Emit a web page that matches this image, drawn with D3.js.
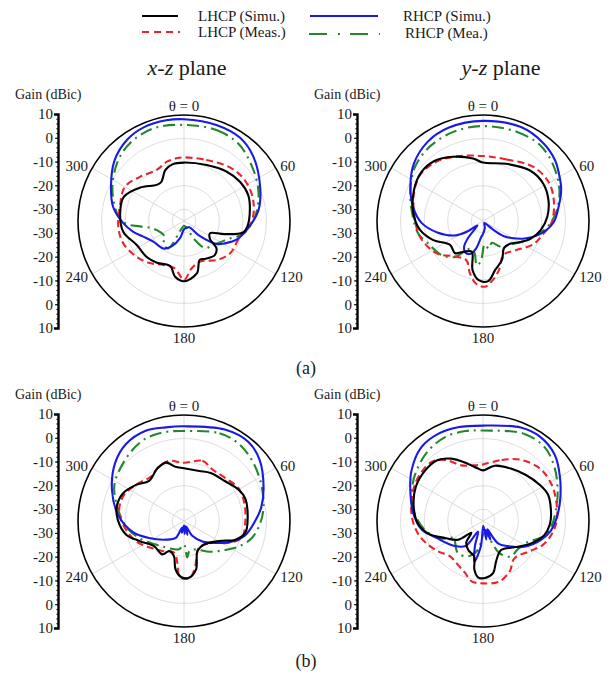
<!DOCTYPE html>
<html>
<head>
<meta charset="utf-8">
<script src="https://cdn.jsdelivr.net/npm/d3@7"></script>
<style>
  body { margin: 0; background: #fff; }
  svg, text { font-family: "Liberation Serif", "Times New Roman", serif; }
  text { fill: #1a1a1a; }
</style>
</head>
<body>
<div id="chart"></div>
<script>
const svgWidth = 613;
const svgHeight = 677;
const ringRadius = 106;
const axisHalf = 107;

// axis / grid values
const gainTickLabels = ["10", "0", "-10", "-20", "-30", "-30", "-20", "-10", "0", "10"];
const gainRings = [-30, -20, -10, 0];
const spokeAngles = [0, 60, 120];
const angleLabels = [[0, "θ = 0"], [60, "60"], [120, "120"], [180, "180"], [240, "240"], [300, "300"]];
const seriesNames = ["LHCP (Simu.)", "LHCP (Meas.)", "RHCP (Simu.)", "RHCP (Mea.)"];
const seriesColors = ["#000000", "#e8242c", "#1a1ae6", "#24882a"];

// (a) x-z plane  [theta deg, gain dBic]
const xzA_lhcpSimu = [[0,-10.2],[22,-9.4],[41,-7.3],[55,-6],[68,-5.6],[80,-6.6],[95,-8],[101,-9.5],[108,-17],[115,-22.8],[125,-21.5],[130,-17],[138,-15.5],[150,-16.5],[158,-17.2],[166,-12.2],[180,-9.4],[189,-11],[197,-15],[213,-13.9],[226,-13],[243,-12.5],[260,-8.8],[277,-7.7],[292,-7.5],[307,-11.5],[323,-15.8],[330,-15.8],[340,-11.9],[349,-10.4]];
const xzA_lhcpMeas = [[0,-8],[20,-7.4],[41,-5],[56,-3.9],[73,-4.3],[91,-6.3],[106,-10.4],[125,-11.1],[140,-13.4],[158,-16.5],[171,-14.6],[180,-10],[191,-14.5],[205,-14.4],[219,-12],[233,-9.8],[250,-7.5],[265,-7],[283,-7.1],[300,-6],[315,-8.5],[332,-10.4],[344,-8.8],[353,-8.2]];
const xzA_rhcpSimu = [[0,8.2],[19,8],[34,7.6],[47,5.2],[66,0.4],[82,-3.1],[96,-7.5],[110,-11.5],[118,-15],[125,-18],[134,-26],[140,-31.5],[160,-32],[180,-31.5],[193,-27.5],[206,-23],[217,-20.4],[236,-19.3],[249,-16.5],[258,-13],[268,-9.2],[281,-4.4],[295,-0.8],[311,4.1],[325,7.1],[337,8.3],[350,8.4]];
const xzA_rhcpMeas = [[0,5.8],[20,6],[36,5],[54,1.5],[70,-1.3],[87,-4.9],[102,-9.2],[111,-14.2],[129,-18.9],[142,-20.4],[150,-25.7],[160,-32],[180,-33],[200,-31],[210,-21.6],[222,-22],[231,-24.5],[256,-21.6],[263,-16.2],[267,-10.7],[274,-7.1],[293,-2],[311,2.6],[325,5.2],[342,6.4]];

// (a) y-z plane
const yzA_lhcpSimu = [[0,-10.2],[22,-8.8],[43,-5.7],[58,-4.9],[72,-5.8],[86,-7.6],[99,-10.2],[111,-13.6],[120,-17],[130,-20],[142,-20.5],[154,-16.6],[166,-13.6],[175,-9.4],[184,-9.8],[192,-13.7],[200,-21.1],[212,-19.6],[221,-16.9],[234,-17.7],[249,-12.4],[262,-8],[276,-5.3],[294,-2.9],[308,-1.6],[321,-2.2],[335,-4.9],[351,-8.1]];
const yzA_lhcpMeas = [[0,-7.4],[21,-7],[43,-3.6],[59,-2.6],[73,-3.6],[91,-5.8],[102,-8.8],[115,-11.5],[131,-16.2],[149,-18.2],[162,-13.1],[172,-9],[178,-7.1],[186,-8.1],[194,-12.1],[203,-16.9],[220,-15.5],[232,-11.8],[240,-10],[256,-7.4],[274,-5.8],[292,-3.4],[306,-1.9],[322,-3],[340,-5.7]];
const yzA_rhcpSimu = [[0,7.5],[22,8],[38,6.8],[50,5],[58,3],[68,0.8],[80,-2.5],[91,-5],[102,-9.7],[113,-15.9],[121,-21],[126,-24],[131,-30],[145,-34],[165,-32],[180,-29.5],[186,-28.3],[194,-23],[200,-20.3],[209,-19.6],[216,-21.3],[221,-25],[226,-30.5],[232,-32],[236,-27],[243,-21.5],[256,-15],[268,-9],[281,-4.8],[296,-0.7],[310,3.2],[325,6],[340,7.2]];
const yzA_rhcpMeas = [[0,5.3],[21,5.5],[37,5.3],[51,3.2],[68,0],[83,-3.7],[95,-7.5],[107,-12.3],[116,-15.5],[130,-19.5],[145,-21.6],[158,-25],[168,-23],[176,-25],[183,-18],[188,-16],[195,-21],[205,-22],[218,-15.6],[231,-12.2],[248,-9.8],[259,-7],[279,-4.3],[293,-1.5],[308,1.8],[324,3.8],[342,4.9]];

// (b) x-z plane
const xzB_lhcpSimu = [[0,-12.6],[17,-12.8],[29,-11.7],[46,-10.7],[60,-8.3],[70,-7.3],[86,-7.9],[101,-8.5],[110,-11.8],[120,-18],[140,-21.9],[156,-21],[166,-13.8],[175,-10.8],[183,-11.2],[190,-14.2],[196,-19.5],[206,-20.8],[213,-18.1],[230,-18.4],[246,-14.2],[257,-9.7],[271,-6.9],[282,-5.8],[294,-6.5],[307,-9.5],[319,-12.4],[333,-10],[343,-9.1],[351,-11.7]];
const xzB_lhcpMeas = [[0,-10.3],[17,-8.3],[29,-10],[44,-9.7],[59,-8],[74,-8.3],[92,-9],[106,-9.4],[116,-13.9],[130,-20.4],[151,-22],[166,-15.3],[173,-11.1],[180,-10.5],[185,-11.5],[189,-17],[197,-20.9],[216,-19.3],[231,-16.9],[247,-12.9],[267,-9],[281,-7],[294,-7.3],[309,-9.8],[323,-11.5],[336,-9.4],[346,-8.7]];
const xzB_rhcpSimu = [[0,5.2],[24,7.5],[39,8.3],[51,6.3],[67,1.7],[80,-1.7],[90,-4.8],[103,-8.3],[113,-12.8],[125,-18.7],[138,-23.3],[151,-28],[160,-32.5],[166,-29],[172,-33],[177,-29.5],[183,-33],[190,-30],[197,-32],[206,-27],[224,-24],[244,-18.5],[258,-12.7],[275,-7],[293,-1.8],[310,3.2],[323,5.9],[337,6.6],[349,5.5]];
const xzB_rhcpMeas = [[0,3.2],[22,5.2],[35,5.2],[48,3.7],[64,1.4],[80,-0.7],[92,-2.7],[104,-5.3],[115,-9.4],[125,-13.6],[140,-18],[158,-22],[170,-22],[175,-19.5],[180,-25],[190,-22.8],[212,-21.6],[230,-19.4],[249,-14.7],[265,-10.2],[285,-5.2],[299,-1.4],[321,1.8],[335,3.6],[348,3.6]];

// (b) y-z plane
const yzB_lhcpSimu = [[0,-13.5],[12,-11],[28,-9.8],[43,-8.3],[57,-6.5],[68,-5.2],[81,-5.8],[92,-6.5],[103,-8.3],[115,-12.5],[130,-17.6],[148,-20.5],[162,-17],[169,-12.5],[178,-10.8],[185,-11],[190,-14],[194,-19.5],[207,-21.2],[218,-23.5],[225,-28],[233,-21.8],[246,-17.3],[257,-11.2],[268,-7.3],[282,-4.9],[297,-3],[311,-2.4],[323,-2.7],[333,-5.3],[345,-9.8],[354,-12.5]];
const yzB_lhcpMeas = [[0,-11],[17,-7.9],[32,-4.4],[48,-2.1],[62,-2],[75,-2.8],[89,-3.6],[101,-5.3],[112,-7.7],[123,-11.4],[140,-14.3],[152,-10.8],[165,-8.4],[180,-8.5],[191,-9],[199,-11.7],[210,-13.6],[223,-14.5],[236,-12],[248,-9.3],[259,-6.9],[273,-4.8],[289,-3.1],[304,-1.8],[319,-1.8],[328,-4.4],[339,-9.7],[351,-11.1]];
const yzB_rhcpSimu = [[0,5.5],[22,7.8],[34,8.2],[47,6.5],[60,2.7],[75,-1.1],[87,-3.6],[98,-5.9],[108,-9.1],[122,-14.3],[132,-18.8],[146,-23.6],[152,-31],[158,-26.5],[163,-31],[170,-27],[176,-33],[185,-24],[192,-17.4],[198,-24],[205,-30],[215,-22],[230,-18.7],[250,-14],[262,-8.7],[276,-5.3],[291,-2],[305,2.1],[320,5.8],[333,6.6],[345,6.2]];
const yzB_rhcpMeas = [[0,3.4],[25,5.9],[40,5.8],[53,3],[68,-0.8],[82,-3.8],[95,-6],[105,-8.8],[115,-14],[130,-16],[142,-15.8],[153,-19.7],[158,-25.6],[170,-30],[180,-29],[190,-22.6],[203,-18.7],[218,-17.7],[232,-20],[239,-21],[247,-16],[261,-10.1],[279,-5.1],[293,-2.1],[307,0.4],[322,2.8],[336,4.1],[349,3.9]];

const panels = [
  { cx: 184, cy: 221, axisX: 58, gainX: 15, series: [xzA_lhcpSimu, xzA_lhcpMeas, xzA_rhcpSimu, xzA_rhcpMeas] },
  { cx: 483, cy: 221, axisX: 357, gainX: 314, series: [yzA_lhcpSimu, yzA_lhcpMeas, yzA_rhcpSimu, yzA_rhcpMeas] },
  { cx: 184, cy: 521, axisX: 58, gainX: 15, series: [xzB_lhcpSimu, xzB_lhcpMeas, xzB_rhcpSimu, xzB_rhcpMeas] },
  { cx: 483, cy: 521, axisX: 357, gainX: 314, series: [yzB_lhcpSimu, yzB_lhcpMeas, yzB_rhcpSimu, yzB_rhcpMeas] }
];

const serif = "'Liberation Serif', 'Times New Roman', serif";

const svg = d3.select("#chart").append("svg")
  .attr("width", svgWidth)
  .attr("height", svgHeight)
  .attr("font-family", serif);

const rScale = d3.scaleLinear().domain([-35, 10]).range([0, ringRadius]).clamp(true);
const rad = d => d * Math.PI / 180;

function styleSeries(sel, i, plot) {
  sel.attr("fill", "none")
    .attr("stroke", seriesColors[i])
    .attr("stroke-width", 2.1)
    .attr("stroke-linejoin", "round");
  if (i === 1) sel.attr("stroke-dasharray", plot ? "7,4" : "7,5");
  if (i === 3) sel.attr("stroke-dasharray", plot ? "12,5,2,5" : "18,11,2,10");
}

function drawPanel(p) {
  let g = svg.append("g").attr("transform", `translate(${p.cx},${p.cy})`);

  // grid rings
  g.selectAll("circle.ring")
    .data(gainRings)
    .enter().append("circle")
    .attr("r", d => rScale(d))
    .attr("fill", "none")
    .attr("stroke", "#d6d6d6")
    .attr("stroke-width", 0.8);

  // spokes
  g.selectAll("line.spoke")
    .data(spokeAngles)
    .enter().append("line")
    .attr("x1", d => -ringRadius * Math.sin(rad(d)))
    .attr("y1", d => ringRadius * Math.cos(rad(d)))
    .attr("x2", d => ringRadius * Math.sin(rad(d)))
    .attr("y2", d => -ringRadius * Math.cos(rad(d)))
    .attr("stroke", "#d0d0d0")
    .attr("stroke-width", 0.8);

  // patterns
  let line = d3.lineRadial()
    .angle(d => rad(d[0]))
    .radius(d => rScale(d[1]))
    .curve(d3.curveCatmullRomClosed.alpha(0.5));
  [3, 1, 2, 0].forEach(i => {
    g.append("path")
      .attr("d", line(p.series[i]))
      .call(styleSeries, i, true);
  });

  // outer circle
  g.append("circle")
    .attr("r", ringRadius)
    .attr("fill", "none")
    .attr("stroke", "#000")
    .attr("stroke-width", 1.6);

  // angle labels
  angleLabels.forEach(([a, t]) => {
    let lbl = g.append("text").text(t).style("font-size", "15px");
    if (a === 0) {
      lbl.attr("x", 0).attr("y", -ringRadius - 4).attr("text-anchor", "middle");
    } else if (a === 180) {
      lbl.attr("x", 0).attr("y", ringRadius + 16).attr("text-anchor", "middle");
    } else {
      let rr = ringRadius + 5;
      lbl.attr("x", rr * Math.sin(rad(a)))
        .attr("y", -rr * Math.cos(rad(a)))
        .attr("dy", "0.35em")
        .attr("text-anchor", a < 180 ? "start" : "end");
    }
  });

  // gain axis on the left
  let yPos = d3.scaleLinear().domain([0, gainTickLabels.length - 1]).range([p.cy - axisHalf, p.cy + axisHalf]);
  let axisG = svg.append("g").attr("transform", `translate(${p.axisX},0)`);
  axisG.call(d3.axisLeft(yPos)
      .tickValues(d3.range(gainTickLabels.length))
      .tickFormat(i => gainTickLabels[i])
      .tickSize(3)
      .tickSizeOuter(4)
      .tickPadding(2));
  axisG.attr("font-family", serif).attr("font-size", 15);
  axisG.select(".domain").attr("stroke-width", 2.4);
  axisG.selectAll(".tick line").attr("stroke-width", 1);
  axisG.selectAll(".tick text").attr("fill", "#1a1a1a");

  let minor = svg.append("g").attr("transform", `translate(${p.axisX},0)`);
  minor.call(d3.axisLeft(yPos)
      .tickValues(d3.range(0, gainTickLabels.length - 1, 0.2))
      .tickFormat("")
      .tickSize(1.8)
      .tickSizeOuter(0));
  minor.select(".domain").remove();
  minor.selectAll(".tick line").attr("stroke-width", 0.8);

  svg.append("text")
    .attr("x", p.gainX)
    .attr("y", p.cy - 122)
    .style("font-size", "14px")
    .text("Gain (dBic)");
}

panels.forEach(drawPanel);

// plane titles
[["x-z", 187, 75], ["y-z", 501, 75]].forEach(([ax, x, y]) => {
  let t = svg.append("text")
    .attr("x", x).attr("y", y)
    .attr("text-anchor", "middle")
    .style("font-size", "22px");
  t.append("tspan").style("font-style", "italic").text(ax);
  t.append("tspan").text(" plane");
});

// sub-figure labels
svg.append("text").attr("x", 306).attr("y", 374).attr("text-anchor", "middle")
  .style("font-size", "18px").text("(a)");
svg.append("text").attr("x", 306).attr("y", 667).attr("text-anchor", "middle")
  .style("font-size", "18px").text("(b)");

// legend
const legendPos = [
  { x1: 142, x2: 178, y: 16, tx: 198, ty: 21 },
  { x1: 142, x2: 180, y: 32, tx: 198, ty: 37 },
  { x1: 310, x2: 378, y: 16, tx: 403, ty: 21 },
  { x1: 309, x2: 380, y: 34, tx: 405, ty: 38 }
];
seriesNames.forEach((name, i) => {
  let lp = legendPos[i];
  svg.append("line")
    .attr("x1", lp.x1).attr("x2", lp.x2)
    .attr("y1", lp.y).attr("y2", lp.y)
    .call(styleSeries, i, false);
  svg.append("text")
    .attr("x", lp.tx).attr("y", lp.ty)
    .style("font-size", "15px")
    .text(name);
});
</script>
</body>
</html>
